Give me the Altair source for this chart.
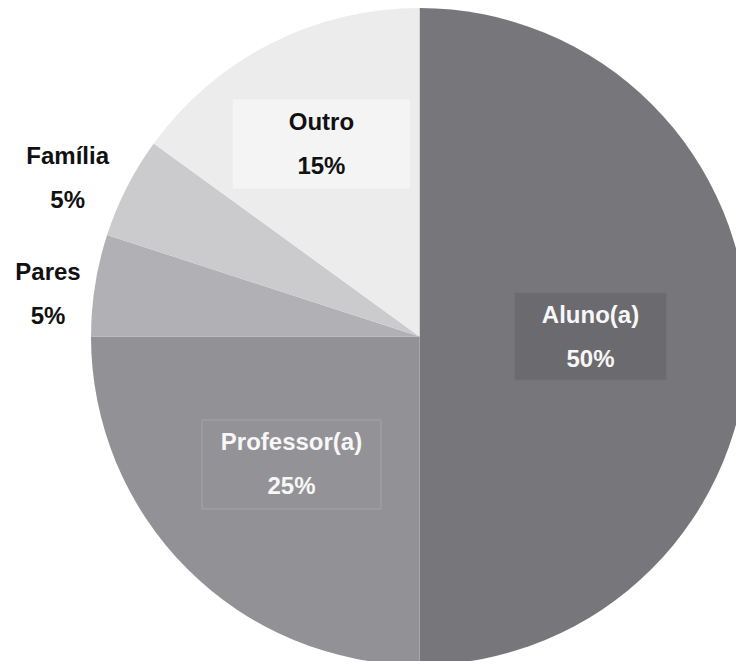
import math
import altair as alt
import pandas as pd

# ---- data ----
categories = ["Aluno(a)", "Professor(a)", "Pares", "Família", "Outro"]
percent = [50, 25, 5, 5, 15]
pct_labels = ["50%", "25%", "5%", "5%", "15%"]

# ---- style / layout ----
slice_colors = ["#77767a", "#929195", "#b1b0b4", "#cbcbcd", "#ececec"]
text_colors = ["#f7f7f7", "#f7f7f7", "#111111", "#111111", "#111111"]
label_radius = [171, 181, 374, 386, 216]
label_angle_shift = [0, 0, -2.4, -2.7, 0]
box_size = [(152, 87), (179, 89), None, None, (176, 88)]
box_fill = ["#6b6a6e", "#939296", None, None, "#f4f4f4"]
box_stroke = ["#737276", "#a5a4a8", None, None, "#f6f6f6"]

W, H = 728, 653
CX, CY = 411.5, 328.5
R = 328.5

rows = []
cum = 0.0
total = sum(percent)
for i, (c, v) in enumerate(zip(categories, percent)):
    mid = (cum + v / 2) / total * 360 + label_angle_shift[i]
    cum += v
    a = math.radians(mid)
    lx = CX + label_radius[i] * math.sin(a)
    ly = CY - label_radius[i] * math.cos(a)
    row = dict(idx=i, cat=c, value=v, pct=pct_labels[i], lx=lx, ly=ly,
               tcol=text_colors[i])
    if box_size[i]:
        bw, bh = box_size[i]
        row.update(bx=lx - bw / 2, bx2=lx + bw / 2, by=ly - bh / 2, by2=ly + bh / 2,
                   bfill=box_fill[i], bstroke=box_stroke[i], hasbox=1)
    else:
        row.update(hasbox=0)
    rows.append(row)
df = pd.DataFrame(rows)

pie = alt.Chart(df).mark_arc(outerRadius=R, strokeWidth=0).encode(
    theta=alt.Theta("value:Q", stack=True),
    color=alt.Color("cat:N", scale=alt.Scale(domain=categories, range=slice_colors), legend=None),
    order=alt.Order("idx:Q"),
    x=alt.value(CX),
    y=alt.value(CY),
)

boxes = alt.Chart(df).transform_filter("datum.hasbox == 1").mark_rect(strokeWidth=1).encode(
    x=alt.X("bx:Q", scale=None, axis=None),
    x2="bx2:Q",
    y=alt.Y("by:Q", scale=None, axis=None),
    y2="by2:Q",
    fill=alt.Fill("bfill:N", scale=None),
    stroke=alt.Stroke("bstroke:N", scale=None),
)

font = "Liberation Sans"
name_text = alt.Chart(df).mark_text(font=font, fontSize=24, fontWeight="bold", dy=-21,
                                    align="center", baseline="middle").encode(
    x=alt.X("lx:Q", scale=None, axis=None),
    y=alt.Y("ly:Q", scale=None, axis=None),
    text="cat:N",
    color=alt.Color("tcol:N", scale=None),
)
pct_text = alt.Chart(df).mark_text(font=font, fontSize=24, fontWeight="bold", dy=23,
                                   align="center", baseline="middle").encode(
    x=alt.X("lx:Q", scale=None, axis=None),
    y=alt.Y("ly:Q", scale=None, axis=None),
    text="pct:N",
    color=alt.Color("tcol:N", scale=None),
)

chart = alt.layer(pie, boxes, name_text, pct_text).properties(
    width=W, height=H, padding=0, autosize=alt.AutoSizeParams(type="none"),
    background="white",
).configure_view(stroke=None)

chart.save("out.html", embed_options={"renderer": "svg", "actions": False})
